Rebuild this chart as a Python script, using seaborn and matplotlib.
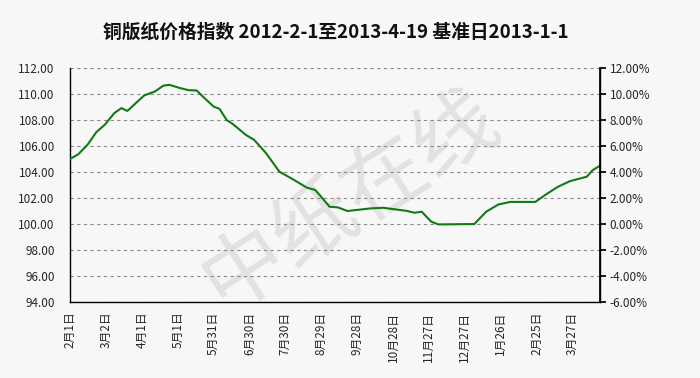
import matplotlib
matplotlib.use("Agg")
import matplotlib.pyplot as plt
import seaborn as sns
import pandas as pd
import numpy as np

# Day offset from 2012-02-01 and index value
days = [0, 7, 15, 22, 29, 37, 43, 48, 55, 62, 71, 78, 83, 92, 99, 106, 111,
        120, 125, 131, 136, 147, 154, 164, 175, 186, 198, 205, 210, 217, 224,
        232, 251, 262, 270, 281, 288, 294, 302, 308, 338, 348, 358, 368, 389,
        398, 408, 418, 432, 437, 443]
values = [105.0, 105.37, 106.14, 107.07, 107.63, 108.53, 108.92, 108.7, 109.3,
          109.89, 110.2, 110.64, 110.71, 110.46, 110.3, 110.27, 109.81,
          109.04, 108.86, 108.0, 107.7, 106.86, 106.47, 105.44, 104.03,
          103.46, 102.8, 102.62, 102.1, 101.33, 101.28, 101.0, 101.2, 101.25,
          101.15, 101.02, 100.87, 100.95, 100.18, 99.97, 100.0, 100.95, 101.5,
          101.7, 101.7, 102.28, 102.87, 103.3, 103.64, 104.15, 104.48]

tick_days = [0, 30, 60, 90, 120, 150, 180, 210, 240, 270, 300, 330, 360, 390, 420]
tick_labels = ["2月1日", "3月2日", "4月1日", "5月1日", "5月31日", "6月30日",
               "7月30日", "8月29日", "9月28日", "10月28日", "11月27日",
               "12月27日", "1月26日", "2月25日", "3月27日"]
left_ticks = [94, 96, 98, 100, 102, 104, 106, 108, 110, 112]
title = "铜版纸价格指数 2012-2-1至2013-4-19 基准日2013-1-1"

sns.set_theme(style="white")
plt.rcParams['font.family'] = ['Noto Sans CJK SC', 'DejaVu Sans']

df = pd.DataFrame({"day": days, "value": values})

fig = plt.figure(figsize=(7, 3.78), dpi=100)
fig.patch.set_facecolor("#f7f7f7")
ax = fig.add_axes([0.1, 0.201, 0.757, 0.619])
ax.set_facecolor("none")

# watermark (behind the line)
ax.text(0.50, 0.47, "中纸在线", transform=fig.transFigure, fontsize=60,
        color="#e2e2e2", rotation=33, ha="center", va="center", zorder=0,
        clip_on=False)

sns.lineplot(data=df, x="day", y="value", ax=ax, color="#127a12",
             linewidth=1.5, zorder=3)

ax.set_xlim(0, 443)
ax.set_ylim(94, 112)
ax.set_yticks(left_ticks)
ax.set_yticklabels([f"{v:.2f}" for v in left_ticks], fontsize=8.5)
ax.set_xticks(tick_days)
ax.set_xticklabels(tick_labels, rotation=90, fontsize=8.5, va="top")
ax.set_xlabel("")
ax.set_ylabel("")
ax.grid(axis="y", linestyle=(0, (3, 3)), color="#8a8a8a", linewidth=0.8)
ax.grid(axis="x", visible=False)
for s in ["left", "bottom", "right"]:
    ax.spines[s].set_color("black")
    ax.spines[s].set_linewidth(1.0)
ax.spines["top"].set_visible(False)
ax.tick_params(axis="x", direction="in", length=4, color="black", pad=7)
ax.tick_params(axis="y", length=0, pad=11)

ax2 = ax.twinx()
ax2.set_ylim(-6, 12)
pct_ticks = list(range(-6, 13, 2))
ax2.set_yticks(pct_ticks)
ax2.set_yticklabels([f"{v:.2f}%" for v in pct_ticks], fontsize=8.5)
ax2.tick_params(axis="y", direction="out", length=4, color="black", pad=3)
for s in ["left", "bottom", "top"]:
    ax2.spines[s].set_visible(False)
ax2.spines["right"].set_color("black")
ax2.grid(False)

fig.text(0.479, 0.915, title, fontsize=13.5, fontweight="bold", ha="center",
         va="center", color="#111111")

fig.savefig("out.png", dpi=100, facecolor=fig.get_facecolor())
